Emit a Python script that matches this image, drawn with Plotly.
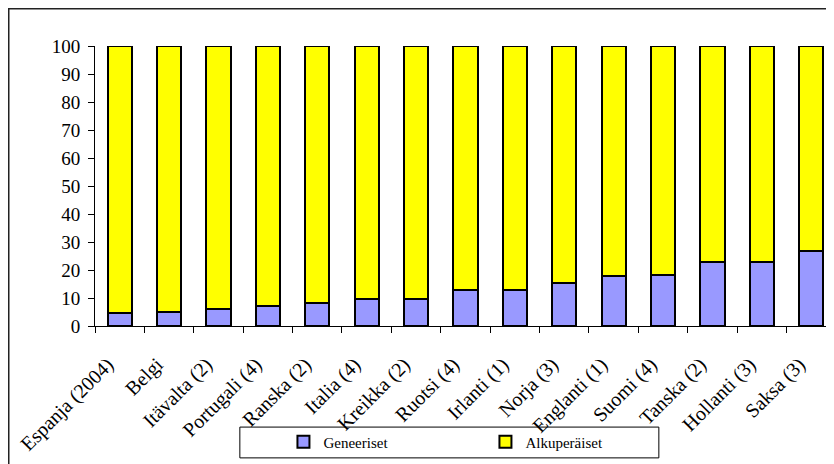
import plotly.graph_objects as go

categories = ["Espanja (2004)", "Belgi", "Itävalta (2)", "Portugali (4)", "Ranska (2)",
              "Italia (4)", "Kreikka (2)", "Ruotsi (4)", "Irlanti (1)", "Norja (3)",
              "Englanti (1)", "Suomi (4)", "Tanska (2)", "Hollanti (3)", "Saksa (3)"]
geneeriset = [4.6, 5.1, 6.0, 7.1, 8.3, 9.8, 9.8, 12.9, 12.9, 15.2, 18.0, 18.3, 22.7, 22.7, 26.8]
alkuperaiset = [round(100 - g, 1) for g in geneeriset]
y_ticks = [0, 10, 20, 30, 40, 50, 60, 70, 80, 90, 100]

FONT = "Liberation Serif"

fig = go.Figure()
fig.add_trace(go.Bar(x=categories, y=geneeriset, name="Geneeriset",
                     marker=dict(color="#9999FF", line=dict(color="black", width=2))))
fig.add_trace(go.Bar(x=categories, y=alkuperaiset, name="Alkuperäiset",
                     marker=dict(color="#FFFF00", line=dict(color="black", width=2))))

fig.update_layout(
    barmode="stack",
    bargap=0.51,
    width=826, height=456,
    margin=dict(l=87, r=0, t=38, b=138),
    paper_bgcolor="white", plot_bgcolor="white",
    font=dict(family=FONT, color="black", size=19),
    showlegend=True,
    legend=dict(orientation="h", x=0.255, xanchor="left", y=-0.414, yanchor="middle",
                font=dict(family=FONT, size=15, color="black"),
                bgcolor="rgba(0,0,0,0)", borderwidth=0, entrywidth=157, traceorder="normal"),
    xaxis=dict(range=[-0.5, 14.46], showline=True, linecolor="black", linewidth=1,
               ticks="outside", tickson="boundaries", ticklen=6, tickcolor="black",
               tickangle=-45, tickfont=dict(family=FONT, size=20), showgrid=False,
               ticklabelstandoff=18, ticklabelshift=-12),
    yaxis=dict(range=[0, 100], tickvals=y_ticks, showline=True, linecolor="black", linewidth=1,
               ticks="outside", ticklen=6, tickcolor="black", showgrid=False, zeroline=False,
               tickfont=dict(family=FONT, size=19), ticklabelstandoff=4),
    shapes=[
        dict(type="rect", xref="paper", yref="paper", x0=-0.1167, x1=1.05, y0=-0.7, y1=1.133,
             line=dict(color="#222222", width=1.5), fillcolor="rgba(0,0,0,0)", layer="below"),
        dict(type="rect", xref="paper", yref="paper", x0=0.196, x1=0.763, y0=-0.471, y1=-0.361,
             line=dict(color="black", width=1), fillcolor="rgba(0,0,0,0)"),
    ],
)

fig.write_html("out.html")
